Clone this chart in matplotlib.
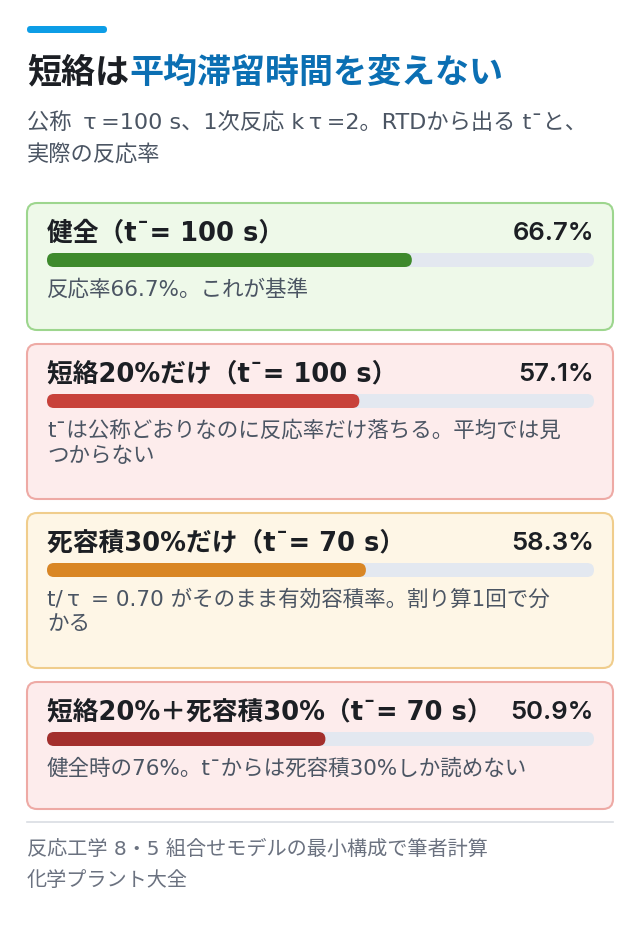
import matplotlib
matplotlib.use("Agg")
import matplotlib.pyplot as plt
from matplotlib.patches import FancyBboxPatch

plt.rcParams['font.family'] = ['DejaVu Sans', 'Noto Sans CJK JP']
num_font = ['Inter', 'Noto Sans CJK JP']

# data
title_dark = "短絡は"
title_blue = "平均滞留時間を変えない"
subtitle = "公称 τ=100 s、1次反応 kτ=2。RTDから出る t\u02c9と、\n実際の反応率"
labels = ["健全（t\u02c9= 100 s）", "短絡20%だけ（t\u02c9= 100 s）",
          "死容積30%だけ（t\u02c9= 70 s）", "短絡20%＋死容積30%（t\u02c9= 70 s）"]
values = [66.7, 57.1, 58.3, 50.9]
notes = ["反応率66.7%。これが基準",
         "t\u02c9は公称どおりなのに反応率だけ落ちる。平均では見\nつからない",
         "t/τ = 0.70 がそのまま有効容積率。割り算1回で分\nかる",
         "健全時の76%。t\u02c9からは死容積30%しか読めない"]
bar_colors = ["#3e8a2c", "#c8413a", "#d98624", "#a32f2c"]
card_fill = ["#eef9e9", "#fdecec", "#fef6e6", "#fdecec"]
card_edge = ["#9dd68e", "#eeaaa5", "#f0cd8c", "#eeaaa5"]
source = "反応工学 8・5 組合せモデルの最小構成で筆者計算\n化学プラント大全"


def wide_tau(s):
    # the reference font sets τ wide
    return s.replace("τ", "\u2009τ\u2009")


W, H = 640, 930
fig = plt.figure(figsize=(W / 100, H / 100), dpi=100)
ax = fig.add_axes([0, 0, 1, 1])
ax.set_xlim(0, W)
ax.set_ylim(H, 0)
ax.axis('off')

# accent bar
ax.add_patch(FancyBboxPatch((27, 26), 80, 7, boxstyle="round,pad=0,rounding_size=3.5",
                            fc="#0d9de6", ec="none"))

# title in two colours
t1 = ax.text(27, 73, title_dark, fontsize=24.5, fontweight='bold', color="#1c1f24",
             va='center', ha='left')
fig.canvas.draw()
bb = t1.get_window_extent().transformed(ax.transData.inverted())
ax.text(bb.x1, 73, title_blue, fontsize=24.5, fontweight='bold', color="#0b6fb3",
        va='center', ha='left')

ax.text(27, 112, wide_tau(subtitle), fontsize=16, color="#4b5563", va='top', ha='left',
        linespacing=1.65)

left, right = 27, 613
track_l, track_r = 47, 594
top = 203
for i in range(len(values)):
    n = notes[i].count("\n") + 1
    h = 127 + 28 * (n - 1)
    ax.add_patch(FancyBboxPatch((left, top), right - left, h,
                                boxstyle="round,pad=0,rounding_size=10",
                                fc=card_fill[i], ec=card_edge[i], lw=1.5))
    ax.text(track_l, top + 30, labels[i], fontsize=18.5, fontweight='bold',
            color="#1c1f24", va='center', ha='left')
    ax.text(track_r, top + 30, f"{values[i]:.1f}%", fontsize=18.5, fontweight='semibold',
            family=num_font, color="#1c1f24", va='center', ha='right')
    tw = track_r - track_l
    ax.add_patch(FancyBboxPatch((track_l, top + 50), tw, 14,
                                boxstyle="round,pad=0,rounding_size=7",
                                fc="#e3e8f0", ec="none"))
    ax.add_patch(FancyBboxPatch((track_l, top + 50), tw * values[i] / 100, 14,
                                boxstyle="round,pad=0,rounding_size=7",
                                fc=bar_colors[i], ec="none"))
    ax.text(track_l, top + 76, wide_tau(notes[i]), fontsize=15.5, color="#4b5563",
            va='top', ha='left', linespacing=1.3)
    top += h + 14

ax.plot([27, 613], [top - 1, top - 1], color="#d9dde3", lw=1.2)
ax.text(27, top + 17, source, fontsize=14.5, color="#6b7280", va='top', ha='left',
        linespacing=1.8)

fig.savefig("out.png", dpi=100)
